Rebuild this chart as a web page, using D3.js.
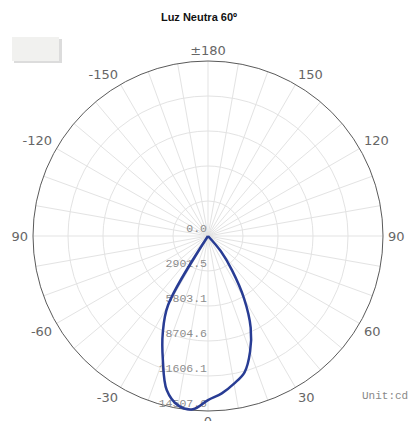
<!DOCTYPE html>
<html lang="en">
<head>
    <meta charset="UTF-8">
    <title>polar</title>
    <script src="https://cdn.jsdelivr.net/npm/d3@7/dist/d3.min.js"></script>
    <style>
        *{
            padding: 0;
            margin: 0;
        }
        body{
            background: #fff;
            overflow: hidden;
        }
    </style>
</head>
<body>
    <script>
        // intensity curve, angle 0 = down, positive to the right
        let angles = [-35, -30, -25, -20, -15, -10, -5, 0, 5, 10, 15, 20, 25, 30, 35, 40, 45];
        let values = [0, 6630, 8870, 10940, 13220, 14260, 14420, 13600, 13100, 12430, 11700, 10200, 8370, 5970, 3480, 1660, 0];
        let radialTicks = [0, 2901.5, 5803.1, 8704.6, 11606.1, 14507.6];
        let angleTicks = [0, 30, 60, 90, 120, 150, 180, -150, -120, -90, -60, -30];
        let angleLabels = ["0", "30", "60", "90", "120", "150", "±180", "-150", "-120", "90", "-60", "-30"];

        let cx = 208, cy = 236, R = 175;
        let toRad = Math.PI / 180;

        var svg = d3.select("body")
            .append("svg")
            .attr("width", 411)
            .attr("height", 421);

        svg.append("text")
            .attr("x", 199)
            .attr("y", 21)
            .attr("text-anchor", "middle")
            .attr("font-family", "Liberation Sans, Arial, sans-serif")
            .attr("font-weight", "bold")
            .attr("font-size", 11)
            .attr("fill", "#111")
            .text("Luz Neutra 60º");

        // empty legend box
        svg.append("rect").attr("x", 14).attr("y", 39).attr("width", 48).attr("height", 24).attr("fill", "#dcdcdc");
        svg.append("rect").attr("x", 12).attr("y", 37).attr("width", 47).attr("height", 24).attr("fill", "#f1f1ef");

        let r = d3.scaleLinear().domain([0, 14507.6]).range([0, R]);
        let g = svg.append("g").attr("transform", "translate(" + cx + "," + cy + ")");

        // spokes every 10 degrees
        g.selectAll("line.spoke").data(d3.range(0, 360, 10)).enter().append("line")
            .attr("class", "spoke")
            .attr("x1", 0).attr("y1", 0)
            .attr("x2", function(d){ return R * Math.sin(d * toRad); })
            .attr("y2", function(d){ return R * Math.cos(d * toRad); })
            .attr("stroke", "#e3e3e3")
            .attr("stroke-width", 1);

        g.selectAll("circle.ring").data(radialTicks.slice(1, -1)).enter().append("circle")
            .attr("class", "ring")
            .attr("r", function(d){ return r(d); })
            .attr("fill", "none")
            .attr("stroke", "#e3e3e3");

        g.append("circle")
            .attr("r", R)
            .attr("fill", "none")
            .attr("stroke", "#5a5a5a")
            .attr("stroke-width", 1);

        // angle labels
        g.selectAll("text.ang").data(angleTicks).enter().append("text")
            .attr("class", "ang")
            .attr("x", function(d){ return (R + 5) * Math.sin(d * toRad); })
            .attr("y", function(d){ return (R + 5) * Math.cos(d * toRad); })
            .attr("text-anchor", function(d){
                let s = Math.sin(d * toRad);
                return Math.abs(s) < 0.01 ? "middle" : (s > 0 ? "start" : "end");
            })
            .attr("dy", function(d){
                let c = Math.cos(d * toRad);
                return Math.abs(c) < 0.01 ? "0.35em" : (c > 0 ? "0.8em" : "-0.1em");
            })
            .attr("font-family", "DejaVu Sans, sans-serif")
            .attr("font-size", 13)
            .attr("fill", "#666")
            .text(function(d, i){ return angleLabels[i]; });

        // radial labels
        g.selectAll("text.rad").data(radialTicks).enter().append("text")
            .attr("class", "rad")
            .attr("x", -1)
            .attr("y", function(d){ return r(d) - 4; })
            .attr("text-anchor", "end")
            .attr("font-family", "Liberation Mono, monospace")
            .attr("font-size", 11.5)
            .attr("fill", "#8c8c8c")
            .text(function(d){ return d.toFixed(1); });

        let pts = angles.map(function(a, i){ return [a, values[i]]; });
        let line = d3.lineRadial()
            .angle(function(d){ return Math.PI - d[0] * toRad; })
            .radius(function(d){ return r(d[1]); })
            .curve(d3.curveCatmullRom);

        g.append("path")
            .datum(pts)
            .attr("d", line)
            .attr("fill", "none")
            .attr("stroke", "#283c94")
            .attr("stroke-width", 2.5)
            .attr("stroke-linejoin", "round");

        svg.append("text")
            .attr("x", 362)
            .attr("y", 399)
            .attr("font-family", "Liberation Mono, monospace")
            .attr("font-size", 11)
            .attr("fill", "#888")
            .text("Unit:cd");
    </script>
</body>
</html>
